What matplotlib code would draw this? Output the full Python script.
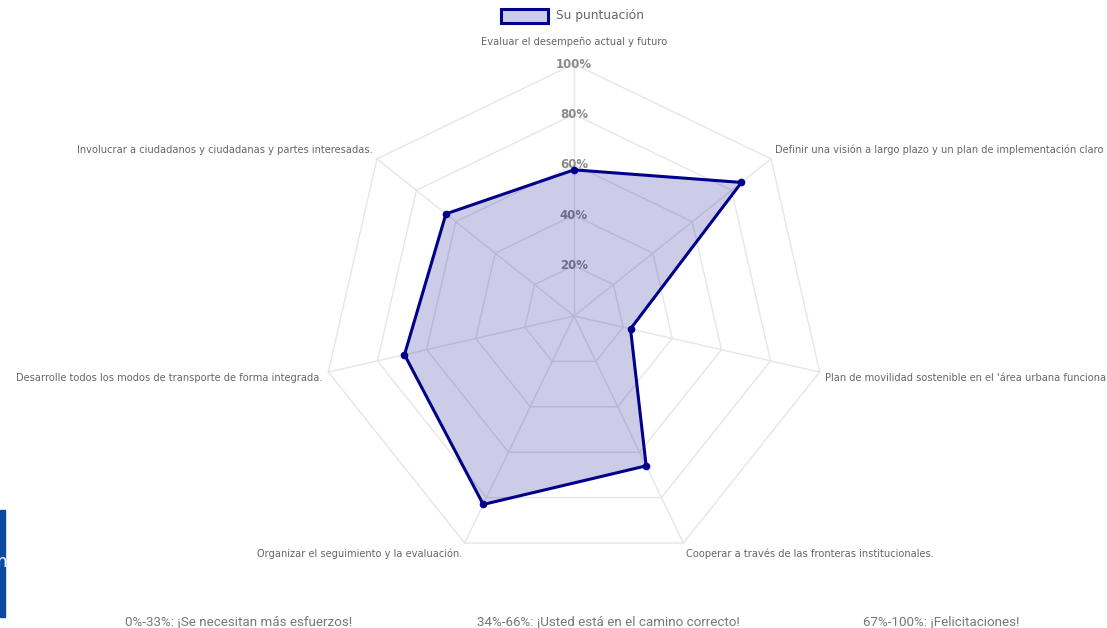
import numpy as np
import matplotlib.pyplot as plt
from matplotlib.patches import Polygon, Rectangle

# datos del grafico
etiquetas = [
    "Evaluar el desempeño actual y futuro",
    "Definir una visión a largo plazo y un plan de implementación claro",
    "Plan de movilidad sostenible en el 'área urbana funcional'",
    "Cooperar a través de las fronteras institucionales.",
    "Organizar el seguimiento y la evaluación.",
    "Desarrolle todos los modos de transporte de forma integrada.",
    "Involucrar a ciudadanos y ciudadanas y partes interesadas.",
]
puntuacion = [58, 85, 23, 66, 83, 69, 65]
niveles = [20, 40, 60, 80, 100]
rangos = [
    "0%-33%: ¡Se necesitan más esfuerzos!",
    "34%-66%: ¡Usted está en el camino correcto!",
    "67%-100%: ¡Felicitaciones!",
]

W, H = 1107, 628
cx, cy, R = 574, 316, 252  # centro y radio en pixeles

fig = plt.figure(figsize=(W / 100, H / 100), dpi=100)
ax = fig.add_axes([0, 0, 1, 1])
ax.set_xlim(-cx / R, (W - cx) / R)
ax.set_ylim(-(H - cy) / R, cy / R)
ax.axis('off')

n = len(etiquetas)
ang = np.arange(n) * 2 * np.pi / n
dx, dy = np.sin(ang), np.cos(ang)

gris_grid = '#e6e6e6'
for nv in niveles:
    r = nv / 100
    ax.add_patch(Polygon(np.c_[dx * r, dy * r], closed=True, fill=False,
                         edgecolor=gris_grid, lw=1, zorder=1))
for i in range(n):
    ax.plot([0, dx[i]], [0, dy[i]], color=gris_grid, lw=1, zorder=1)

for nv in niveles:
    ax.text(0, nv / 100, f"{nv}%", ha='center', va='center', fontsize=8.5,
            fontweight='bold', color='#8a8a8a', zorder=2)

# serie
v = np.array(puntuacion) / 100
xs, ys = dx * v, dy * v
col = '#00008b'
ax.add_patch(Polygon(np.c_[xs, ys], closed=True, facecolor=col, alpha=0.2,
                     edgecolor='none', zorder=3))
ax.add_patch(Polygon(np.c_[xs, ys], closed=True, fill=False, edgecolor=col,
                     lw=2.2, zorder=4))
ax.plot(xs, ys, 'o', color=col, ms=4.5, zorder=5)

# etiquetas de los ejes
rl = 1.022
for i, txt in enumerate(etiquetas):
    s, c = dx[i], dy[i]
    if abs(s) < 0.05:
        ha = 'center'
    elif s > 0:
        ha = 'left'
    else:
        ha = 'right'
    va = 'bottom' if c > 0 else 'top'
    r = rl + (0.045 if i == 0 else 0)
    ax.text(s * r, c * r, txt, ha=ha, va=va, fontsize=7.15, color='#666666')

# leyenda
lx, ly = 501 / R - cx / R, cy / R - 23 / R
ax.add_patch(Rectangle((lx, ly), 47 / R, 14 / R, facecolor='#ccccE8',
                       edgecolor=col, lw=2.2, clip_on=False))
ax.text(lx + 55 / R, ly + 7 / R, "Su puntuación", ha='left', va='center',
        fontsize=8.8, color='#666666')

# textos inferiores
for xc, t in zip([239, 608, 941], rangos):
    fig.text(xc / W, 1 - 622 / H, t, ha='center', va='center', fontsize=9.6,
             color='#777777', family=['Roboto', 'DejaVu Sans'])

# recuadro azul recortado a la izquierda
fig.patches.append(Rectangle((0, 1 - 617 / H), 5 / W, 107 / H,
                             transform=fig.transFigure, color='#0b4aa0'))
fig.text(-4 / W, 1 - 562 / H, "n", ha='left', va='center', fontsize=12,
         color='white')

fig.savefig('out.png', dpi=100)
